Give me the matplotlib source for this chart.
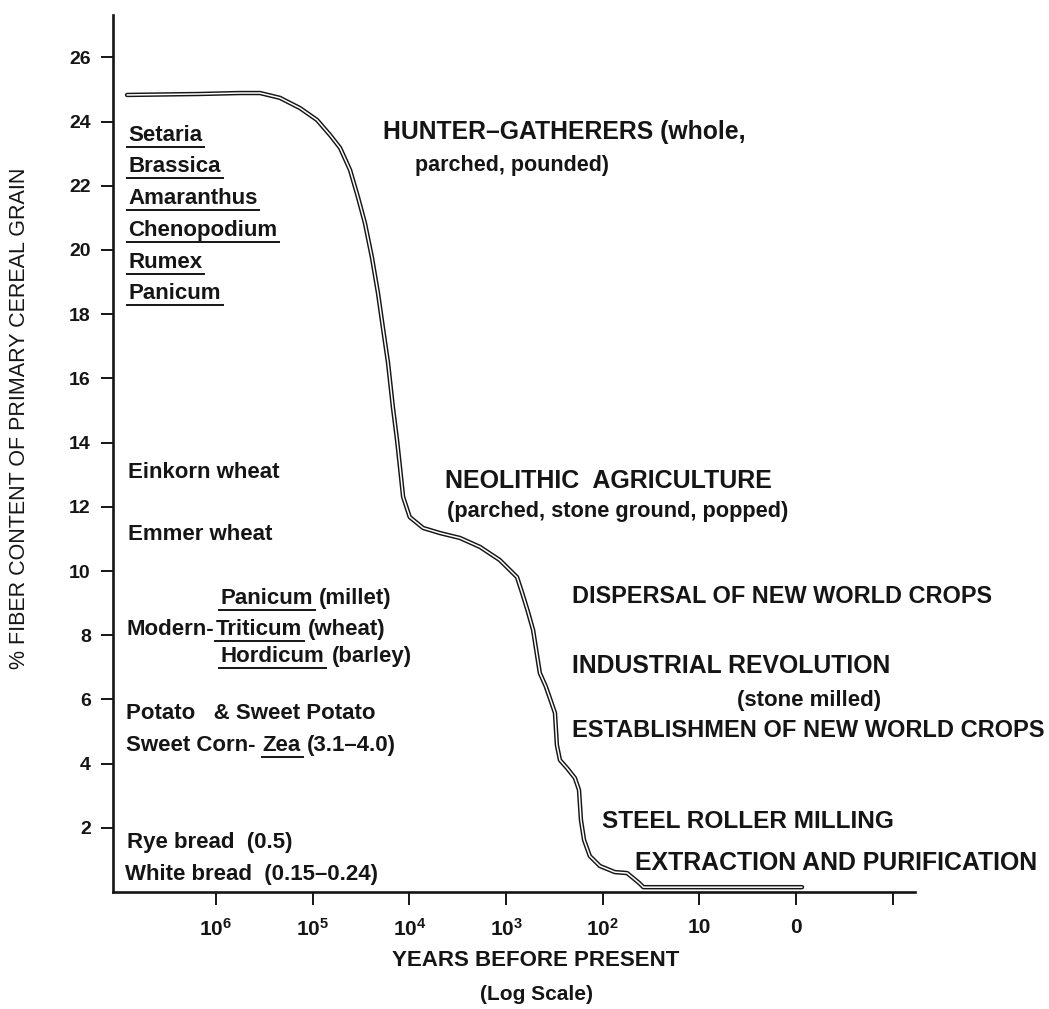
import matplotlib
matplotlib.use("Agg")
import matplotlib.pyplot as plt
from matplotlib.lines import Line2D
from matplotlib.transforms import IdentityTransform

W, H = 1049, 1009

# courbe : annees avant present / % de fibres
years = [8.3e6, 1.5e6, 5.65e5, 3.5e5, 2.18e5, 1.35e5, 9.0e4, 6.6e4, 5.2e4, 4.1e4,
         3.4e4, 2.88e4, 2.44e4, 2.11e4, 1.88e4, 1.66e4, 1.48e4, 1.34e4, 1.25e4,
         1.16e4, 9.9e3, 7.2e3, 4.8e3, 3.0e3, 1.86e3, 1.16e3, 770, 680, 600, 525,
         447, 390, 355, 312, 298, 277, 234, 194, 176, 168, 156, 136, 107, 75, 56,
         42, 38, 0.87]
fiber = [24.83, 24.86, 24.89, 24.89, 24.74, 24.42, 24.05, 23.58, 23.18, 22.49,
         21.65, 20.84, 19.78, 18.66, 17.6, 16.48, 15.11, 14.08, 13.24,
         12.31, 11.68, 11.34, 11.18, 11.03, 10.75, 10.34, 9.81, 9.31, 8.78, 8.16,
         6.82, 6.42, 6.07, 5.58, 4.58, 4.11, 3.86, 3.55, 3.18, 2.24, 1.62, 1.12,
         0.81, 0.62, 0.59, 0.28, 0.15, 0.15]

year_ticks = [1e6, 1e5, 1e4, 1e3, 1e2, 10, 1, 0.1]
year_labels = [r"$10^{6}$", r"$10^{5}$", r"$10^{4}$", r"$10^{3}$", r"$10^{2}$",
               "10", "0", ""]
fiber_ticks = list(range(2, 27, 2))

# textes : (x, ligne de base, [(morceau, souligne, ecart apres)]) en pixels de l'image
species = [(128, 141, [("Setaria", True, 0)]),
           (128, 172, [("Brassica", True, 0)]),
           (128, 204, [("Amaranthus", True, 0)]),
           (128, 236, [("Chenopodium", True, 0)]),
           (128, 268, [("Rumex", True, 0)]),
           (128, 299, [("Panicum", True, 0)]),
           (128, 478, [("Einkorn wheat", False, 0)]),
           (128, 540, [("Emmer wheat", False, 0)]),
           (220, 604, [("Panicum", True, 6), ("(millet)", False, 0)]),
           (127, 635, [("Modern-", False, 1), ("Triticum", True, 6), ("(wheat)", False, 0)]),
           (220, 662, [("Hordicum", True, 8), ("(barley)", False, 0)]),
           (126, 719, [("Potato   & Sweet Potato", False, 0)]),
           (126, 751, [("Sweet Corn-", False, 7), ("Zea", True, 6), ("(3.1\u20134.0)", False, 0)]),
           (127, 848, [("Rye bread  (0.5)", False, 0)]),
           (125, 880, [("White bread  (0.15\u20130.24)", False, 0)])]

stages = [(383, 139, "HUNTER\u2013GATHERERS (whole,", 17.8),
          (415, 171, "parched, pounded)", 15.5),
          (445, 488, "NEOLITHIC  AGRICULTURE", 18),
          (447, 517, "(parched, stone ground, popped)", 15.7),
          (572, 603, "DISPERSAL OF NEW WORLD CROPS", 16.9),
          (572, 673, "INDUSTRIAL REVOLUTION", 17.8),
          (737, 706, "(stone milled)", 16),
          (572, 737, "ESTABLISHMEN OF NEW WORLD CROPS", 17),
          (602, 828, "STEEL ROLLER MILLING", 17.6),
          (635, 870, "EXTRACTION AND PURIFICATION", 17.9)]

plt.rcParams["font.family"] = ["Liberation Sans", "DejaVu Sans"]
plt.rcParams["mathtext.fontset"] = "custom"
plt.rcParams["mathtext.rm"] = "Liberation Sans:bold"
plt.rcParams["mathtext.it"] = "Liberation Sans:bold"
plt.rcParams["mathtext.bf"] = "Liberation Sans:bold"

INK = "#151515"

fig = plt.figure(figsize=(W / 100, H / 100), dpi=100)
ax = fig.add_axes([113 / W, (H - 892) / H, (915 - 113) / W, (892 - 15) / H])

# trait double : noir epais puis blanc fin
ax.plot(years, fiber, color=INK, lw=3.2, solid_capstyle="round",
        solid_joinstyle="round", zorder=3)
ax.plot(years, fiber, color="white", lw=1.1, solid_capstyle="round",
        solid_joinstyle="round", zorder=4)

ax.set_xscale("log")
ax.set_xlim(1.16e7, 0.059)
ax.set_ylim(0, 877 / 32.1)
ax.set_xticks(year_ticks)
ax.set_xticklabels(year_labels)
ax.minorticks_off()
ax.set_yticks(fiber_ticks)
ax.set_yticklabels([str(v) for v in fiber_ticks])

for side in ["top", "right"]:
    ax.spines[side].set_visible(False)
for side in ["left", "bottom"]:
    ax.spines[side].set_linewidth(1.9)
    ax.spines[side].set_color(INK)

ax.tick_params(axis="y", direction="out", length=9, width=1.4, pad=7,
               labelsize=14, colors=INK)
ax.tick_params(axis="x", direction="out", length=9, width=1.4, pad=10,
               labelsize=15, colors=INK)
for lab in ax.get_yticklabels() + ax.get_xticklabels():
    lab.set_fontweight("bold")

fig.text(20 / W, 1 - 418 / H, "% FIBER CONTENT OF PRIMARY CEREAL GRAIN",
         rotation=90, ha="center", va="center", fontsize=15.5, color=INK)
fig.text(536 / W, 1 - 966 / H, "YEARS BEFORE PRESENT", ha="center",
         va="baseline", fontsize=16, fontweight="bold", color=INK)
fig.text(536 / W, 1 - 1000 / H, "(Log Scale)", ha="center",
         va="baseline", fontsize=15, fontweight="bold", color=INK)

renderer = fig.canvas.get_renderer()


def place(x, y, parts, size):
    cx = x
    for s, under, gap in parts:
        t = fig.text(cx, H - y, s, transform=IdentityTransform(), ha="left",
                     va="baseline", fontsize=size, fontweight="bold", color=INK)
        bb = t.get_window_extent(renderer=renderer)
        if under:
            fig.add_artist(Line2D([bb.x0 - 1, bb.x1 + 2], [H - y - 6] * 2,
                                  transform=IdentityTransform(), color=INK, lw=1.4))
        cx = bb.x1 + gap


for x, y, parts in species:
    place(x, y, parts, 16)

for x, y, s, size in stages:
    place(x, y, [(s, False, 0)], size)

fig.savefig("out.png", dpi=100)
